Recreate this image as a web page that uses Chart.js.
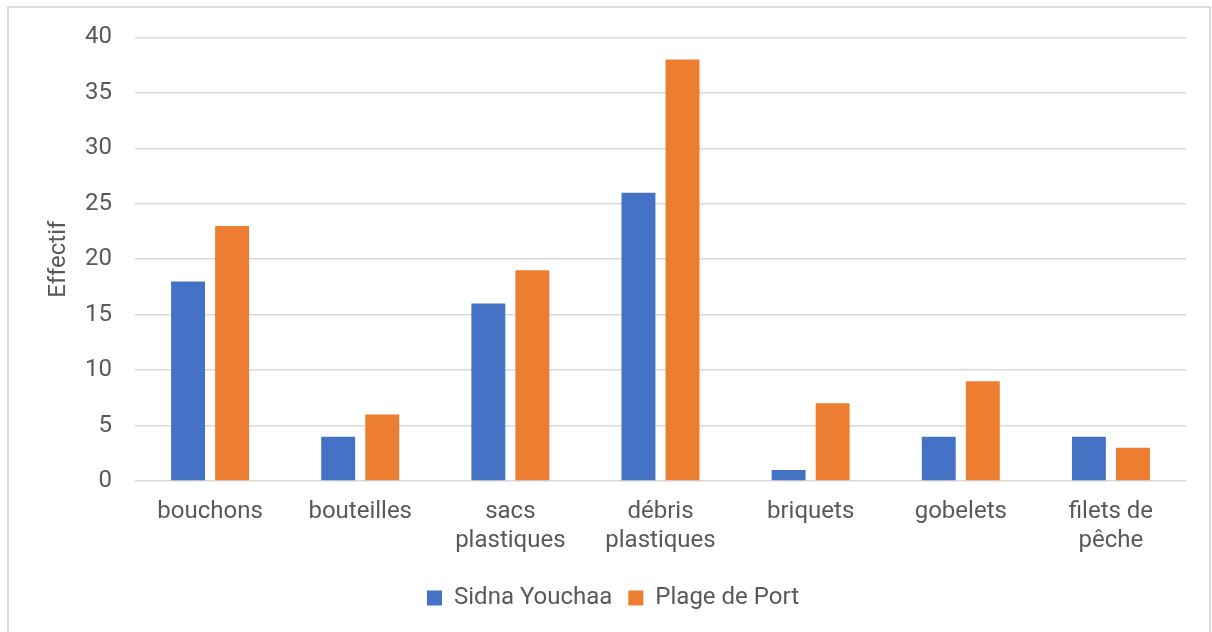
<!DOCTYPE html>
<html>
<head>
<meta charset="utf-8">
<script src="https://cdn.jsdelivr.net/npm/chart.js@4/dist/chart.umd.min.js"></script>
<style>
  html, body { margin: 0; padding: 0; background: #fff; }
  #wrap { position: absolute; left: 0; top: 0; width: 1212px; height: 632px; }
  #frame { position: absolute; left: 7px; top: 6px; width: 1200px; height: 640px;
           border: 2px solid #dcdcdc; pointer-events: none; }
</style>
</head>
<body>
<div id="wrap"><canvas id="chart" width="1212" height="632"></canvas></div>
<div id="frame"></div>
<script>
  // categories and values
  const categories = ['bouchons', 'bouteilles', ['sacs', 'plastiques'], ['débris', 'plastiques'],
                      'briquets', 'gobelets', ['filets de', 'pêche']];
  const sidnaYouchaa = [18, 4, 16, 26, 1, 4, 4];
  const plageDePort  = [23, 6, 19, 38, 7, 9, 3];
  const yTicks = [0, 5, 10, 15, 20, 25, 30, 35, 40];

  const textColor = '#595959';
  const font = { family: 'Roboto', size: 24 };
  const tickFont = { family: 'Roboto', size: 24, lineHeight: 1.2 };

  Chart.defaults.font.family = 'Roboto';
  Chart.defaults.color = textColor;

  new Chart(document.getElementById('chart'), {
    type: 'bar',
    data: {
      labels: categories,
      datasets: [
        { label: 'Sidna Youchaa', data: sidnaYouchaa, backgroundColor: '#4472C4' },
        { label: 'Plage de Port', data: plageDePort, backgroundColor: '#ED7D31' }
      ]
    },
    options: {
      responsive: false,
      animation: false,
      categoryPercentage: 0.587,
      barPercentage: 0.77,
      layout: { padding: { left: 40, top: 37, right: 26, bottom: 12 } },
      plugins: {
        tooltip: { enabled: false },
        legend: {
          position: 'bottom',
          labels: { font: font, color: textColor, boxWidth: 15, boxHeight: 15, padding: 16 }
        }
      },
      scales: {
        x: {
          grid: { display: false },
          border: { display: false },
          ticks: { font: tickFont, color: textColor, padding: 9, maxRotation: 0, autoSkip: false },
          afterFit: s => { s.height = 89; }
        },
        y: {
          min: 0,
          max: 40,
          afterBuildTicks: s => { s.ticks = yTicks.map(v => ({ value: v })); },
          grid: { color: '#d9d9d9', lineWidth: 1.5, drawTicks: false },
          border: { display: false },
          ticks: { font: font, color: textColor, padding: 23 },
          title: { display: true, text: 'Effectif', font: font, color: textColor, padding: { top: 5, bottom: 0 } },
          afterFit: s => { s.width = 95; }
        }
      }
    }
  });
</script>
</body>
</html>
